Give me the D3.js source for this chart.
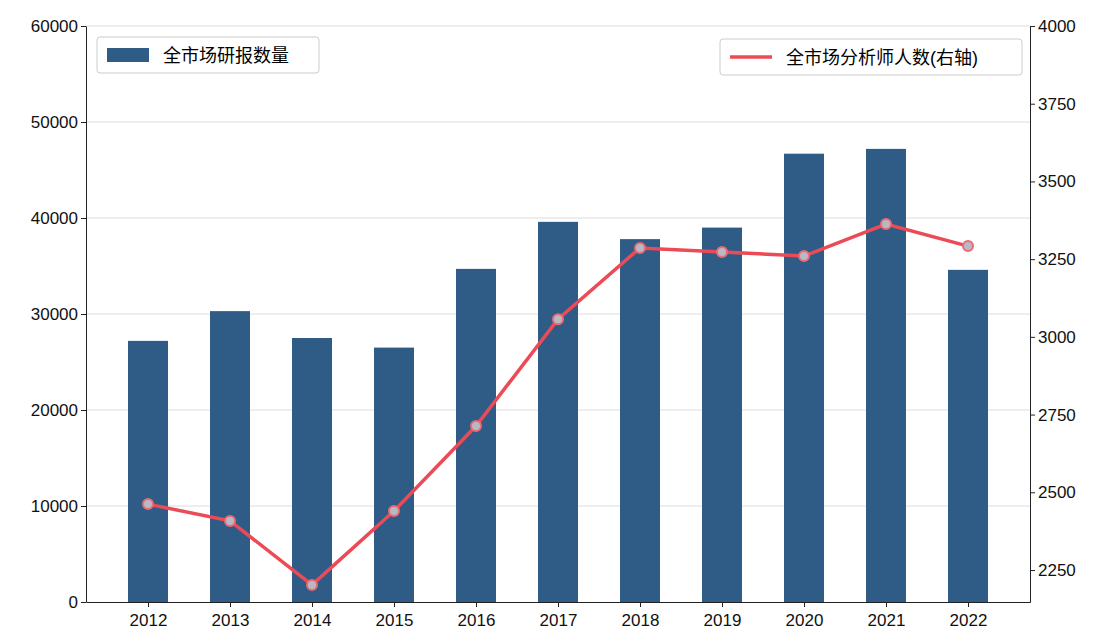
<!DOCTYPE html>
<html><head><meta charset="utf-8">
<script src="https://cdn.jsdelivr.net/npm/d3@7"></script>
<style>body{margin:0;background:#fff}svg{font-family:"Liberation Sans",Arial,"Noto Sans CJK SC",sans-serif}</style>
</head><body><svg width="1107" height="639"></svg>
<script>
const years = ['2012','2013','2014','2015','2016','2017','2018','2019','2020','2021','2022'];
const reports = [27200, 30300, 27500, 26500, 34700, 39600, 37800, 39000, 46700, 47200, 34600];
const analysts = [2462, 2408, 2202, 2440, 2713, 3057, 3286, 3273, 3260, 3363, 3292];
const leftTicks = [0, 10000, 20000, 30000, 40000, 50000, 60000];
const rightTicks = [2250, 2500, 2750, 3000, 3250, 3500, 3750, 4000];

const svg = d3.select('svg');
const L = 86, R = 1030, T = 26, B = 602;

const x = d3.scalePoint().domain(years).range([L, R]).padding(0.756);
const yL = d3.scaleLinear().domain([0, 60000]).range([B, T]);
const yR = d3.scaleLinear().domain([2250 - (B - 570) / 544 * 1750, 4000]).range([B, T]);

// gridlines
svg.append('g').selectAll('line').data(leftTicks.slice(1)).join('line')
  .attr('x1', L).attr('x2', R).attr('y1', d => yL(d)).attr('y2', d => yL(d))
  .attr('stroke', '#dcdcdc').attr('stroke-width', 1);

// bars
svg.append('g').selectAll('rect').data(years).join('rect')
  .attr('x', d => x(d) - 20).attr('width', 40)
  .attr('y', (d, i) => yL(reports[i])).attr('height', (d, i) => B - yL(reports[i]))
  .attr('fill', '#2e5c87');

// line
const line = d3.line().x((d, i) => x(years[i])).y(d => yR(d));
svg.append('path').datum(analysts).attr('d', line)
  .attr('fill', 'none').attr('stroke', '#eb4a56').attr('stroke-width', 3.5);
svg.append('g').selectAll('circle').data(analysts).join('circle')
  .attr('cx', (d, i) => x(years[i])).attr('cy', d => yR(d)).attr('r', 5)
  .attr('fill', '#b9b9c4').attr('stroke', '#eb6a74').attr('stroke-width', 2);

// axes
const style = g => { g.selectAll('text').attr('font-size', 17).attr('fill', '#111');
  g.selectAll('line,path').attr('stroke', '#222'); };
svg.append('g').attr('transform', `translate(0,${B})`)
  .call(d3.axisBottom(x).tickSize(5).tickSizeOuter(0)).call(style)
  .call(g => g.selectAll('text').attr('dy', '0.95em'));
svg.append('g').attr('transform', `translate(${L},0)`)
  .call(d3.axisLeft(yL).tickValues(leftTicks).tickFormat(d3.format('d')).tickSize(5).tickSizeOuter(0)).call(style);
svg.append('g').attr('transform', `translate(${R},0)`)
  .call(d3.axisRight(yR).tickValues(rightTicks).tickFormat(d3.format('d')).tickSize(5).tickSizeOuter(0)).call(style);

// legends
const lg1 = svg.append('g').attr('transform', 'translate(97,37)');
lg1.append('rect').attr('width', 222).attr('height', 36).attr('rx', 3)
  .attr('fill', '#fff').attr('stroke', '#ccc');
lg1.append('rect').attr('x', 10).attr('y', 11).attr('width', 42).attr('height', 14).attr('fill', '#2e5c87');
lg1.append('text').attr('x', 66).attr('y', 25).attr('font-size', 18).text('全市场研报数量');

const lg2 = svg.append('g').attr('transform', 'translate(720,39)');
lg2.append('rect').attr('width', 302).attr('height', 36).attr('rx', 3)
  .attr('fill', '#fff').attr('stroke', '#ccc');
lg2.append('line').attr('x1', 10).attr('x2', 52).attr('y1', 18).attr('y2', 18)
  .attr('stroke', '#eb4a56').attr('stroke-width', 3.5);
lg2.append('text').attr('x', 66).attr('y', 25).attr('font-size', 18).text('全市场分析师人数(右轴)');
</script></body></html>
